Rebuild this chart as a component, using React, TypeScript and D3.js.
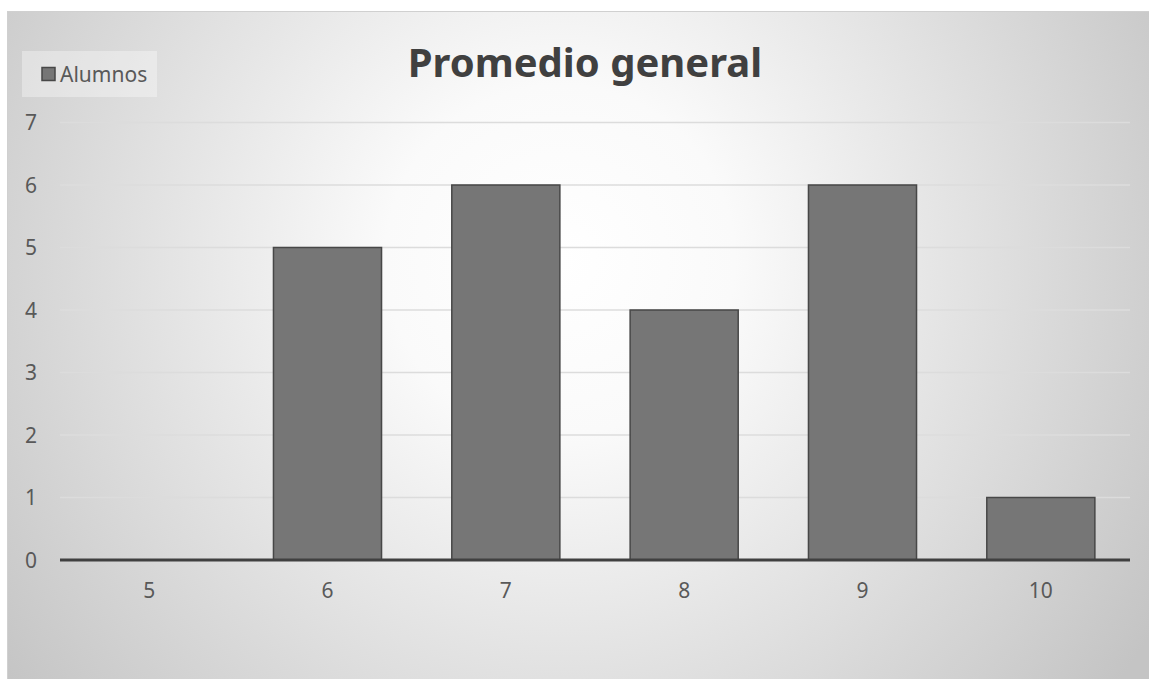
import React, { useRef, useEffect } from 'react';
import { select, scaleBand, scaleLinear, range } from 'd3';

const categories = ['5', '6', '7', '8', '9', '10'];
const alumnos = [0, 5, 6, 4, 6, 1];
const yTicks = [0, 1, 2, 3, 4, 5, 6, 7];

const W = 1149;
const H = 679;
const plot = { left: 60, right: 1130, top: 122.5, bottom: 560 };
const font = '"Noto Sans", "Open Sans", sans-serif';

const App: React.FC = () => {
  const svgRef = useRef<SVGSVGElement>(null);

  useEffect(() => {
    const svg = select(svgRef.current);
    svg.selectAll('*').remove();

    const defs = svg.append('defs');
    const grad = defs
      .append('radialGradient')
      .attr('id', 'bg')
      .attr('gradientUnits', 'userSpaceOnUse')
      .attr('cx', 560)
      .attr('cy', 260)
      .attr('r', 700);
    grad.append('stop').attr('offset', '0%').attr('stop-color', '#ffffff');
    grad.append('stop').attr('offset', '25%').attr('stop-color', '#fafafa');
    grad.append('stop').attr('offset', '100%').attr('stop-color', '#c4c4c4');

    // chart area
    svg
      .append('rect')
      .attr('x', 7.5)
      .attr('y', 11.5)
      .attr('width', W)
      .attr('height', H)
      .attr('fill', 'url(#bg)')
      .attr('stroke', '#d0d0d0');

    const x = scaleBand<string>()
      .domain(categories)
      .range([plot.left, plot.right])
      .paddingInner(0.394)
      .paddingOuter(0.197);

    const y = scaleLinear().domain([0, 7]).range([plot.bottom, plot.top]);

    // gridlines
    svg
      .append('g')
      .selectAll('line')
      .data(yTicks.filter((d) => d > 0))
      .join('line')
      .attr('x1', plot.left)
      .attr('x2', plot.right)
      .attr('y1', (d) => y(d))
      .attr('y2', (d) => y(d))
      .attr('stroke', '#dcdcdc')
      .attr('stroke-width', 1.5);

    // y labels
    svg
      .append('g')
      .selectAll('text')
      .data(yTicks)
      .join('text')
      .attr('x', 31)
      .attr('y', (d) => y(d) + 7.5)
      .attr('text-anchor', 'middle')
      .attr('font-family', font)
      .attr('font-size', 21)
      .attr('fill', '#595959')
      .text((d) => d);

    // bars
    svg
      .append('g')
      .selectAll('rect')
      .data(range(categories.length).filter((i) => alumnos[i] > 0))
      .join('rect')
      .attr('x', (i) => x(categories[i])!)
      .attr('y', (i) => y(alumnos[i]))
      .attr('width', x.bandwidth())
      .attr('height', (i) => y(0) - y(alumnos[i]))
      .attr('fill', '#767676')
      .attr('stroke', '#474747')
      .attr('stroke-width', 1.5);

    // baseline
    svg
      .append('line')
      .attr('x1', plot.left)
      .attr('x2', plot.right)
      .attr('y1', y(0))
      .attr('y2', y(0))
      .attr('stroke', '#404040')
      .attr('stroke-width', 3);

    // x labels
    svg
      .append('g')
      .selectAll('text')
      .data(categories)
      .join('text')
      .attr('x', (d) => x(d)! + x.bandwidth() / 2)
      .attr('y', 598)
      .attr('text-anchor', 'middle')
      .attr('font-family', font)
      .attr('font-size', 21)
      .attr('fill', '#595959')
      .text((d) => d);

    // title
    svg
      .append('text')
      .attr('x', 585)
      .attr('y', 77)
      .attr('text-anchor', 'middle')
      .attr('font-family', font)
      .attr('font-weight', 'bold')
      .attr('font-size', 40)
      .attr('fill', '#404040')
      .text('Promedio general');

    // legend
    const legend = svg.append('g');
    legend
      .append('rect')
      .attr('x', 22)
      .attr('y', 51)
      .attr('width', 135)
      .attr('height', 46)
      .attr('fill', '#ffffff')
      .attr('fill-opacity', 0.35);
    legend
      .append('rect')
      .attr('x', 42)
      .attr('y', 67.5)
      .attr('width', 13)
      .attr('height', 13)
      .attr('fill', '#767676')
      .attr('stroke', '#474747')
      .attr('stroke-width', 1.5);
    legend
      .append('text')
      .attr('x', 60)
      .attr('y', 82)
      .attr('font-family', font)
      .attr('font-size', 21)
      .attr('fill', '#595959')
      .text('Alumnos');
  }, []);

  return (
    <svg
      ref={svgRef}
      width={W}
      height={H}
      style={{ position: 'absolute', left: 0, top: 0, background: '#ffffff' }}
    />
  );
};

export default App;
